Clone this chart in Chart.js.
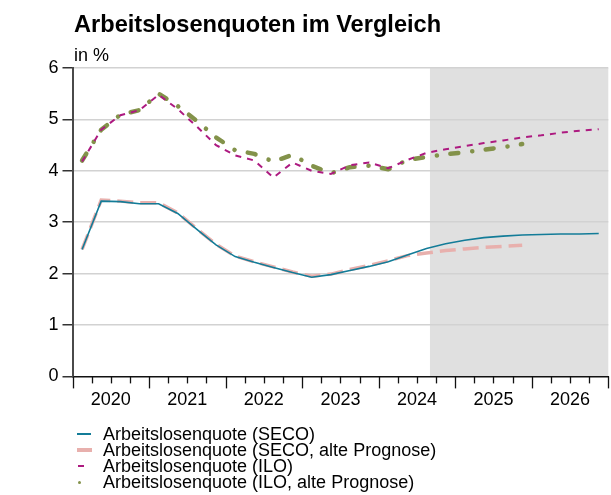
<!DOCTYPE html>
<html>
<head>
<meta charset="utf-8">
<script src="https://cdn.jsdelivr.net/npm/chart.js@4"></script>
<style>
  html, body { margin: 0; padding: 0; background: #fff; }
  #wrap { position: relative; width: 611px; height: 495px; overflow: hidden; font-family: "Liberation Sans", Arial, sans-serif; color: #000; }
  #chart { position: absolute; left: 0; top: 0; }
  #title { position: absolute; left: 74px; top: 12px; font-size: 23.6px; line-height: 24px; font-weight: bold; white-space: nowrap; }
  #unit { position: absolute; left: 74px; top: 46px; font-size: 18px; line-height: 18px; white-space: nowrap; }
  #legend { position: absolute; left: 0; top: 425.5px; width: 611px; }
  .row { position: relative; height: 16.2px; font-size: 18px; line-height: 16px; white-space: nowrap; }
  .row .txt { position: absolute; left: 103px; top: 0; }
  .row .sym { position: absolute; }
</style>
</head>
<body>
<div id="wrap">
  <canvas id="chart" width="611" height="495"></canvas>
  <div id="title">Arbeitslosenquoten im Vergleich</div>
  <div id="unit">in %</div>
  <div id="legend"></div>
</div>
<script>
// Quarters 2020 Q1 ... 2026 Q4
const quarters = ["2020 Q1","2020 Q2","2020 Q3","2020 Q4","2021 Q1","2021 Q2","2021 Q3","2021 Q4",
  "2022 Q1","2022 Q2","2022 Q3","2022 Q4","2023 Q1","2023 Q2","2023 Q3","2023 Q4",
  "2024 Q1","2024 Q2","2024 Q3","2024 Q4","2025 Q1","2025 Q2","2025 Q3","2025 Q4",
  "2026 Q1","2026 Q2","2026 Q3","2026 Q4"];
const yearLabels = ["2020","2021","2022","2023","2024","2025","2026"];
const yTicks = [0,1,2,3,4,5,6];

const secoNew = [2.47,3.41,3.40,3.36,3.36,3.17,2.86,2.56,2.33,2.22,2.12,2.02,1.93,1.98,2.06,2.14,
  2.23,2.36,2.49,2.58,2.65,2.70,2.73,2.75,2.76,2.77,2.77,2.78];
const secoOld = [2.47,3.43,3.41,3.38,3.38,3.18,2.87,2.57,2.34,2.23,2.13,2.03,1.95,1.99,2.08,2.16,
  2.25,2.35,2.40,2.45,2.48,2.51,2.53,2.55,null,null,null,null];
const iloNew = [4.18,4.80,5.08,5.18,5.48,5.20,4.86,4.50,4.30,4.20,3.87,4.16,4.00,3.94,4.11,4.16,
  4.05,4.21,4.35,4.42,4.48,4.54,4.59,4.65,4.69,4.74,4.78,4.81];
const iloOld = [4.20,4.80,5.09,5.18,5.50,5.26,4.97,4.65,4.40,4.33,4.18,4.31,4.10,3.95,4.07,4.10,
  4.03,4.21,4.27,4.32,4.36,4.41,4.46,4.52,null,null,null,null];

const seriesLabels = ["Arbeitslosenquote (SECO)","Arbeitslosenquote (SECO, alte Prognose)",
  "Arbeitslosenquote (ILO)","Arbeitslosenquote (ILO, alte Prognose)"];
const forecastStartQuarter = 18.68; // start of shaded forecast period (in quarters since 2020)

const colors = ["#137c98", "#e8b0ad", "#ad1a80", "#83924a"];

function toPoints(arr) {
  return arr.map((v, i) => ({ x: i + 0.5, y: v }));
}

const shadePlugin = {
  id: 'shade',
  beforeDraw(chart) {
    const { ctx, chartArea, scales } = chart;
    const x0 = scales.x.getPixelForValue(forecastStartQuarter);
    ctx.save();
    ctx.fillStyle = '#e0e0e0';
    ctx.fillRect(x0, chartArea.top, chartArea.right - x0, chartArea.bottom - chartArea.top);
    ctx.restore();
  }
};

const xTickPlugin = {
  id: 'xticks',
  afterDraw(chart) {
    const { ctx, scales } = chart;
    const y0 = scales.x.top;
    ctx.save();
    ctx.strokeStyle = '#111';
    ctx.lineWidth = 1.3;
    for (let q = 0; q <= quarters.length; q++) {
      const x = Math.round(scales.x.getPixelForValue(q)) + 0.5;
      const len = (q % 4 === 0) ? 12 : 7;
      ctx.beginPath();
      ctx.moveTo(x, y0);
      ctx.lineTo(x, y0 + len);
      ctx.stroke();
    }
    ctx.restore();
  }
};

const chart = new Chart(document.getElementById('chart'), {
  type: 'line',
  data: {
    datasets: [
      { label: seriesLabels[0], data: toPoints(secoNew), borderColor: colors[0], borderWidth: 1.6,
        pointRadius: 0, tension: 0, order: 1 },
      { label: seriesLabels[1], data: toPoints(secoOld), borderColor: colors[1], borderWidth: 3.5,
        borderDash: [16, 7], borderCapStyle: 'butt', pointRadius: 0, tension: 0, order: 2 },
      { label: seriesLabels[2], data: toPoints(iloNew), borderColor: colors[2], borderWidth: 2,
        borderDash: [6, 6], pointRadius: 0, tension: 0, order: 1 },
      { label: seriesLabels[3], data: toPoints(iloOld), borderColor: colors[3], borderWidth: 4.5,
        borderDash: [8, 14, 0.1, 13.5], borderCapStyle: 'round', borderJoinStyle: 'round',
        pointRadius: 0, tension: 0, order: 2 }
    ]
  },
  options: {
    responsive: false,
    animation: false,
    devicePixelRatio: 1,
    spanGaps: false,
    layout: { padding: { left: 0, top: 68, right: 2.7, bottom: 78.6 } },
    plugins: { legend: { display: false }, tooltip: { enabled: false }, title: { display: false } },
    scales: {
      x: {
        type: 'linear', min: 0, max: quarters.length,
        afterFit: (s) => { s.height = 40; },
        afterBuildTicks: (s) => { s.ticks = yearLabels.map((y, i) => ({ value: i * 4 + 2 })); },
        grid: { display: false, drawTicks: false },
        border: { display: true, color: '#111', width: 1.5 },
        ticks: {
          padding: 13, maxRotation: 0, autoSkip: false,
          font: { family: '"Liberation Sans", Arial, sans-serif', size: 18 }, color: '#000',
          callback: (v) => yearLabels[Math.round((v - 2) / 4)]
        }
      },
      y: {
        min: 0, max: 6,
        afterFit: (s) => { s.width = 72.5; },
        afterBuildTicks: (s) => { s.ticks = yTicks.map(v => ({ value: v })); },
        grid: {
          color: (c) => c.tick && c.tick.value === 0 ? 'rgba(0,0,0,0)' : '#d2d2d2',
          lineWidth: 1.5, tickLength: 10, tickColor: '#333', tickWidth: 1.5
        },
        border: { display: true, color: '#4a4a4a', width: 2 },
        ticks: {
          padding: 4,
          font: { family: '"Liberation Sans", Arial, sans-serif', size: 18 }, color: '#000',
          callback: (v) => String(v)
        }
      }
    }
  },
  plugins: [shadePlugin, xTickPlugin]
});

// HTML legend built from the series labels / colours
const legendSyms = [
  { left: 77, width: 14, height: 2, radius: 0 },
  { left: 77, width: 15, height: 3.5, radius: 0 },
  { left: 78, width: 5.5, height: 2, radius: 0 },
  { left: 77.5, width: 3.5, height: 3.5, radius: 2 }
];
const legend = document.getElementById('legend');
seriesLabels.forEach((lab, i) => {
  const row = document.createElement('div');
  row.className = 'row';
  const sym = document.createElement('span');
  sym.className = 'sym';
  const s = legendSyms[i];
  sym.style.left = s.left + 'px';
  sym.style.width = s.width + 'px';
  sym.style.height = s.height + 'px';
  sym.style.top = (8.3 - s.height / 2) + 'px';
  sym.style.background = colors[i];
  sym.style.borderRadius = s.radius + 'px';
  const txt = document.createElement('span');
  txt.className = 'txt';
  txt.textContent = lab;
  row.appendChild(sym);
  row.appendChild(txt);
  legend.appendChild(row);
});
</script>
</body>
</html>
